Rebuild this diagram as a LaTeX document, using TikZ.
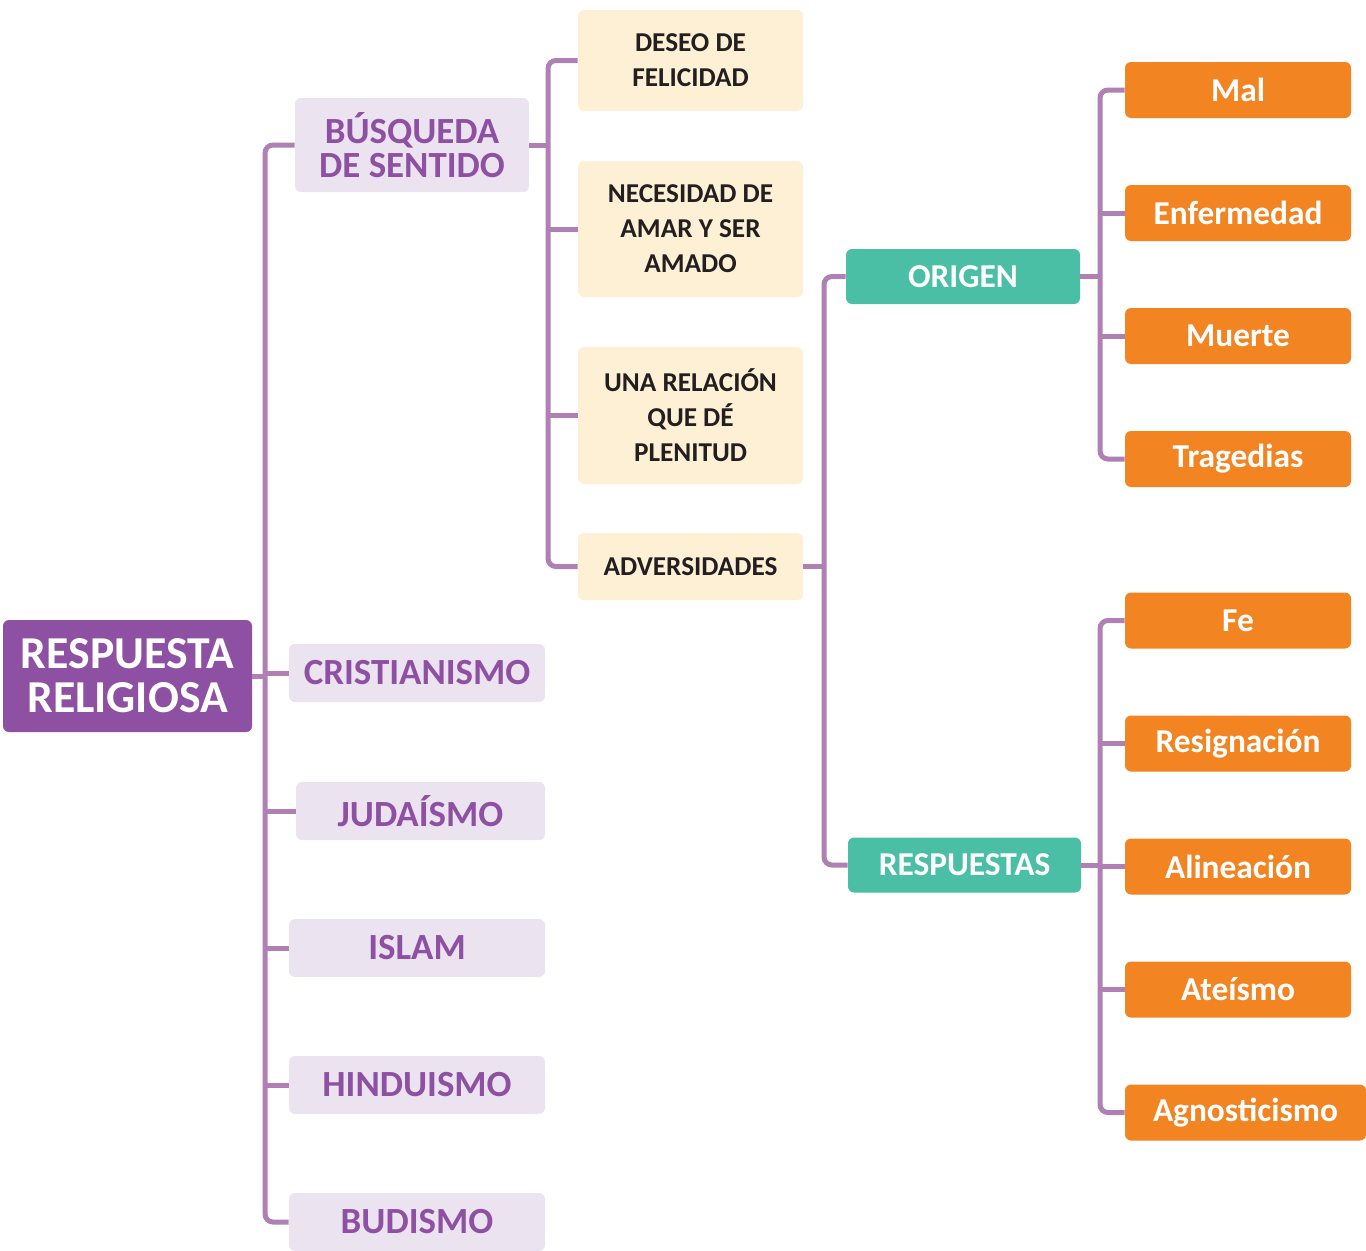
\documentclass[tikz,border=0pt]{standalone}
\usepackage{fontspec}
\setmainfont{Carlito}

\definecolor{lila}{HTML}{8E50A2}
\definecolor{lilaclaro}{HTML}{ECE3F1}
\definecolor{linea}{HTML}{B07FB4}
\definecolor{crema}{HTML}{FDF0D5}
\definecolor{verde}{HTML}{4ABFA5}
\definecolor{naranja}{HTML}{F38422}
\definecolor{tinta}{HTML}{231F20}

\tikzset{
    caja/.style={rounded corners=1.2mm, inner sep=0pt, align=center},
    raiz/.style={caja, fill=lila, text=white, minimum width=249*0.2mm, minimum height=112*0.2mm,
        font=\fontsize{26}{25}\selectfont\bfseries},
    religion/.style={caja, fill=lilaclaro, text=lila, minimum width=256*0.2mm, minimum height=58*0.2mm,
        font=\fontsize{21}{19}\selectfont\bfseries},
    idea/.style={caja, fill=crema, text=tinta, minimum width=225*0.2mm,
        font=\fontsize{15.5}{20}\selectfont\bfseries},
    rama/.style={caja, fill=verde, text=white, minimum width=234*0.2mm, minimum height=55*0.2mm,
        font=\fontsize{19}{20}\selectfont\bfseries},
    hoja/.style={caja, fill=naranja, text=white, minimum width=226*0.2mm, minimum height=56*0.2mm,
        font=\fontsize{19}{20}\selectfont\bfseries},
    conn/.style={draw=linea, line width=1mm, rounded corners=1.6mm}
}

\begin{document}
\begin{tikzpicture}[x=0.2mm, y=-0.2mm]
    \useasboundingbox (0,0) rectangle (1366,1250);

    % raiz y religiones
    \node[raiz] (main) at (127.5,676) {RESPUESTA\\RELIGIOSA};
    \node[religion, minimum width=234*0.2mm, minimum height=94*0.2mm] (busq) at (412,145) {BÚSQUEDA\\DE SENTIDO};
    \node[religion] (crist) at (417,673) {CRISTIANISMO};
    \node[religion, minimum width=249*0.2mm] (judai) at (420.5,811) {JUDAÍSMO};
    \node[religion] (islam) at (417,948) {ISLAM};
    \node[religion] (hindu) at (417,1085) {HINDUISMO};
    \node[religion] (budis) at (417,1222) {BUDISMO};

    % busqueda de sentido
    \node[idea, minimum height=101*0.2mm] (deseo) at (690.5,60.5) {DESEO DE\\FELICIDAD};
    \node[idea, minimum height=136*0.2mm] (neces) at (690.5,229) {NECESIDAD DE\\AMAR Y SER\\AMADO};
    \node[idea, minimum height=137*0.2mm] (relac) at (690.5,415.5) {UNA RELACIÓN\\QUE DÉ\\PLENITUD};
    \node[idea, minimum height=67*0.2mm] (adver) at (690.5,566.5) {ADVERSIDADES};

    % adversidades
    \node[rama] (origen) at (963,276.5) {ORIGEN};
    \node[rama, minimum width=233*0.2mm] (respu) at (964.5,865) {RESPUESTAS};

    \node[hoja] (mal) at (1238,90) {Mal};
    \node[hoja] (enfer) at (1238,213) {Enfermedad};
    \node[hoja] (muerte) at (1238,336) {Muerte};
    \node[hoja] (trag) at (1238,459) {Tragedias};

    \node[hoja] (fe) at (1238,620.5) {Fe};
    \node[hoja] (resig) at (1238,743.5) {Resignación};
    \node[hoja] (alin) at (1238,866.5) {Alineación};
    \node[hoja] (ateis) at (1238,989.5) {Ateísmo};
    \node[hoja, minimum width=241*0.2mm] (agno) at (1245.5,1112.5) {Agnosticismo};

    % lineas
    \coordinate (t1) at (265,0);
    \coordinate (t2) at (548,0);
    \coordinate (t3) at (824,0);
    \coordinate (t4) at (1100,0);

    \draw[conn] (busq.west) -| (t1 |- budis.west) -- (budis.west);
    \draw[conn] (main.east) -- (t1 |- main.east);
    \draw[conn] (t1 |- crist.west) -- (crist.west);
    \draw[conn] (t1 |- judai.west) -- (judai.west);
    \draw[conn] (t1 |- islam.west) -- (islam.west);
    \draw[conn] (t1 |- hindu.west) -- (hindu.west);

    \draw[conn] (deseo.west) -| (t2 |- adver.west) -- (adver.west);
    \draw[conn] (busq.east) -- (t2 |- busq.east);
    \draw[conn] (t2 |- neces.west) -- (neces.west);
    \draw[conn] (t2 |- relac.west) -- (relac.west);

    \draw[conn] (origen.west) -| (t3 |- respu.west) -- (respu.west);
    \draw[conn] (adver.east) -- (t3 |- adver.east);

    \draw[conn] (mal.west) -| (t4 |- trag.west) -- (trag.west);
    \draw[conn] (origen.east) -- (t4 |- origen.east);
    \draw[conn] (t4 |- enfer.west) -- (enfer.west);
    \draw[conn] (t4 |- muerte.west) -- (muerte.west);

    \draw[conn] (fe.west) -| (t4 |- agno.west) -- (agno.west);
    \draw[conn] (respu.east) -- (t4 |- respu.east);
    \draw[conn] (t4 |- resig.west) -- (resig.west);
    \draw[conn] (t4 |- alin.west) -- (alin.west);
    \draw[conn] (t4 |- ateis.west) -- (ateis.west);

\end{tikzpicture}
\end{document}
